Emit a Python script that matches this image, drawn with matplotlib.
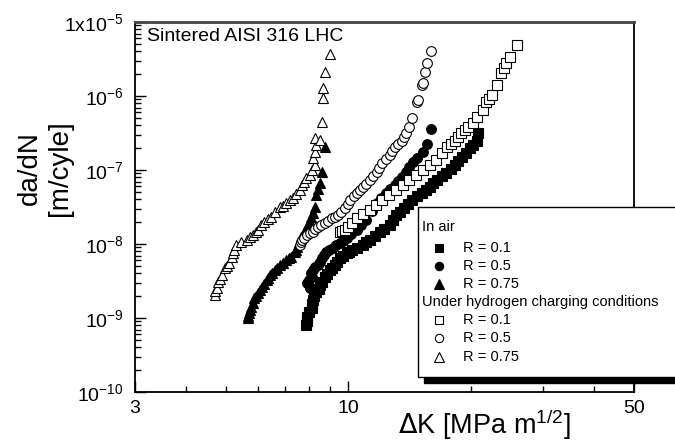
import matplotlib
matplotlib.use("Agg")
import matplotlib.pyplot as plt
from matplotlib.patches import Rectangle
from matplotlib.lines import Line2D
from matplotlib.ticker import FixedLocator, FixedFormatter, NullFormatter

plt.rcParams["font.family"] = ["Liberation Sans", "DejaVu Sans"]

# --- data (delta K in MPa m^1/2, da/dN in m/cycle) ---
# In air, R = 0.1 (filled squares)
air_r01_dk = [7.89, 7.90, 7.93, 8.00, 8.13, 8.15, 8.17, 8.25, 8.35, 8.45,
              8.51, 8.62, 8.74, 8.85, 9.00, 9.12, 9.25, 9.40, 9.52, 9.70,
              9.90, 10.05, 10.23, 10.50, 10.83, 11.05, 11.27, 11.60, 11.92,
              12.25, 12.62, 12.85, 13.1, 13.4, 13.7, 14.0, 14.3, 14.7, 15.1,
              15.45, 15.8, 16.1, 16.5, 16.9, 17.3, 17.8, 18.2, 18.6, 19.0,
              19.4, 19.8, 20.2, 20.6, 20.8]
air_r01_dadn = [8.0e-10, 9.0e-10, 1.03e-9, 1.2e-9, 1.36e-9, 1.55e-9, 1.75e-9,
                2.0e-9, 2.25e-9, 2.5e-9, 2.79e-9, 3.1e-9, 3.58e-9, 3.9e-9,
                4.5e-9, 4.8e-9, 5.2e-9, 5.8e-9, 6.47e-9, 7.0e-9, 7.55e-9,
                7.9e-9, 8.3e-9, 8.9e-9, 9.7e-9, 1.05e-8, 1.13e-8, 1.3e-8,
                1.45e-8, 1.6e-8, 1.8e-8, 2.1e-8, 2.47e-8, 2.75e-8, 3.06e-8,
                3.45e-8, 3.9e-8, 4.4e-8, 4.89e-8, 5.4e-8, 5.9e-8, 6.6e-8,
                7.3e-8, 8.2e-8, 9.1e-8, 1.03e-7, 1.17e-7, 1.32e-7, 1.5e-7,
                1.72e-7, 1.98e-7, 2.2e-7, 2.5e-7, 3.16e-7]

# In air, R = 0.5 (filled circles)
air_r05_dk = [8.04, 7.93, 8.00, 8.13, 8.10, 8.17, 8.30, 8.42, 8.50, 8.60,
              8.72, 8.83, 8.98, 9.14, 9.33, 9.52, 9.70, 9.90, 10.15, 10.47,
              10.75, 11.07, 11.4, 11.72, 12.0, 12.36, 12.65, 12.98, 13.25,
              13.5, 13.8, 14.1, 14.4, 14.7, 15.2, 15.6, 15.9]
air_r05_dadn = [2.54e-9, 2.97e-9, 3.3e-9, 3.58e-9, 4.0e-9, 4.5e-9, 4.85e-9,
                5.2e-9, 5.8e-9, 6.47e-9, 7.1e-9, 7.8e-9, 8.3e-9, 8.8e-9,
                9.6e-9, 1.03e-8, 1.1e-8, 1.2e-8, 1.35e-8, 1.55e-8, 1.8e-8,
                2.1e-8, 2.8e-8, 3.58e-8, 4.2e-8, 4.89e-8, 5.5e-8, 6.27e-8,
                7.1e-8, 8.0e-8, 9.4e-8, 1.1e-7, 1.27e-7, 1.45e-7, 1.75e-7,
                2.25e-7, 3.58e-7]

# In air, R = 0.75 (filled triangles)
air_r075_dk = [5.67, 5.68, 5.72, 5.75, 5.78, 5.83, 5.87, 5.93, 6.0, 6.07,
               6.13, 6.22, 6.30, 6.36, 6.42, 6.50, 6.59, 6.69, 6.79, 6.92,
               7.05, 7.15, 7.25, 7.38, 7.44, 7.50, 7.58, 7.67, 7.78, 7.89,
               7.96, 8.04, 8.10, 8.17, 8.26, 8.35, 8.43, 8.51, 8.60, 8.74]
air_r075_dadn = [1.0e-9, 1.08e-9, 1.17e-9, 1.3e-9, 1.41e-9, 1.6e-9, 1.86e-9,
                 2.0e-9, 2.18e-9, 2.4e-9, 2.62e-9, 2.9e-9, 3.3e-9, 3.5e-9,
                 3.81e-9, 4.1e-9, 4.5e-9, 4.8e-9, 5.2e-9, 5.6e-9, 6.1e-9,
                 6.4e-9, 6.67e-9, 7.8e-9, 8.4e-9, 9.1e-9, 1.05e-8, 1.24e-8,
                 1.42e-8, 1.64e-8, 1.8e-8, 1.98e-8, 2.3e-8, 2.62e-8, 3.16e-8,
                 4.59e-8, 5.5e-8, 6.67e-8, 9.4e-8, 2.05e-7]

# Hydrogen charging, R = 0.1 (open squares)
h2_r01_dk = [9.52, 9.65, 9.78, 9.95, 10.2, 10.47, 10.85, 11.27, 11.7, 12.1,
             12.6, 13.1, 13.6, 14.1, 14.6, 15.2, 15.8, 16.4, 16.9, 17.4, 17.8,
             18.2, 18.6, 18.9, 19.3, 19.6, 20.2, 20.7, 21.3, 21.7, 22.1, 22.5,
             23.1, 23.6, 24.0, 24.3, 24.8, 25.8]
h2_r01_dadn = [1.45e-8, 1.5e-8, 1.55e-8, 1.7e-8, 1.95e-8, 2.25e-8, 2.55e-8,
               2.9e-8, 3.4e-8, 3.9e-8, 4.6e-8, 5.4e-8, 6.3e-8, 7.3e-8, 8.6e-8,
               1.0e-7, 1.17e-7, 1.36e-7, 1.7e-7, 2.05e-7, 2.25e-7, 2.5e-7,
               2.8e-7, 3.16e-7, 3.5e-7, 3.81e-7, 4.3e-7, 5.2e-7, 6.5e-7,
               8.3e-7, 9.2e-7, 1.03e-6, 1.41e-6, 2.05e-6, 2.4e-6, 2.79e-6,
               3.37e-6, 4.9e-6]

# Hydrogen charging, R = 0.5 (open circles)
h2_r05_dk = [7.60, 7.65, 7.71, 7.80, 7.93, 8.05, 8.17, 8.30, 8.42, 8.58,
             8.74, 8.9, 9.09, 9.25, 9.41, 9.6, 9.78, 9.95, 10.1, 10.3, 10.47,
             10.65, 10.83, 11.05, 11.27, 11.5, 11.72, 11.9, 12.1, 12.35,
             12.62, 12.8, 12.98, 13.25, 13.5, 13.7, 13.85, 14.1, 14.3, 14.7,
             14.8, 15.1, 15.2, 15.4, 15.6, 15.9]
h2_r05_dadn = [9.7e-9, 1.05e-8, 1.13e-8, 1.22e-8, 1.32e-8, 1.4e-8, 1.45e-8,
               1.58e-8, 1.7e-8, 1.8e-8, 1.92e-8, 2.05e-8, 2.25e-8, 2.35e-8,
               2.47e-8, 2.75e-8, 3.06e-8, 3.45e-8, 3.9e-8, 4.4e-8, 4.89e-8,
               5.3e-8, 5.9e-8, 6.5e-8, 7.3e-8, 8.3e-8, 9.4e-8, 1.08e-7,
               1.24e-7, 1.4e-7, 1.6e-7, 1.8e-7, 2.05e-7, 2.25e-7, 2.5e-7,
               2.8e-7, 3.16e-7, 3.81e-7, 5.0e-7, 8.3e-7, 8.8e-7, 1.41e-6,
               1.5e-6, 2.11e-6, 2.79e-6, 4.06e-6]

# Hydrogen charging, R = 0.75 (open triangles)
h2_r075_dk = [4.71, 4.72, 4.76, 4.79, 4.84, 4.90, 4.98, 5.05, 5.10, 5.19,
              5.22, 5.25, 5.30, 5.45, 5.63, 5.75, 5.83, 5.92, 6.0, 6.12, 6.22,
              6.35, 6.46, 6.6, 6.79, 6.9, 7.05, 7.18, 7.30, 7.45, 7.60, 7.71,
              7.80, 7.89, 8.04, 8.13, 8.26, 8.17, 8.26, 8.35, 8.26, 8.51,
              8.60, 8.64, 8.64, 8.77, 9.0]
h2_r075_dadn = [2.05e-9, 2.3e-9, 2.54e-9, 3.06e-9, 3.4e-9, 3.81e-9, 4.74e-9,
                5.0e-9, 5.5e-9, 6.67e-9, 7.5e-9, 8.3e-9, 9.7e-9, 1.05e-8,
                1.13e-8, 1.25e-8, 1.32e-8, 1.45e-8, 1.55e-8, 1.8e-8, 1.98e-8,
                2.15e-8, 2.32e-8, 2.7e-8, 3.16e-8, 3.3e-8, 3.58e-8, 3.9e-8,
                4.19e-8, 4.8e-8, 5.4e-8, 6.27e-8, 7.0e-8, 7.8e-8, 8.55e-8,
                1.0e-7, 1.17e-7, 1.45e-7, 1.75e-7, 2.18e-7, 2.7e-7, 2.54e-7,
                4.46e-7, 9.4e-7, 1.28e-6, 2.11e-6, 3.7e-6]

x_ticks = [3, 10, 50]
x_tick_labels = ["3", "10", "50"]
x_minor = [4, 5, 6, 7, 8, 9, 20, 30, 40]
y_ticks = [1e-10, 1e-9, 1e-8, 1e-7, 1e-6, 1e-5]
y_tick_labels = [r"$\mathregular{10^{-10}}$", r"$\mathregular{10^{-9}}$",
                 r"$\mathregular{10^{-8}}$", r"$\mathregular{10^{-7}}$",
                 r"$\mathregular{10^{-6}}$", r"$\mathregular{1x10^{-5}}$"]
y_minor = [m * 10.0 ** e for e in range(-10, -5) for m in range(2, 10)]

legend_headers = ["In air", "Under hydrogen charging conditions"]
legend_labels = ["R = 0.1", "R = 0.5", "R = 0.75"]

fig = plt.figure(figsize=(6.75, 4.41), dpi=100)
ax = fig.add_axes([0.2, 0.111, 0.739, 0.839])

filled = dict(ls="none", mfc="black", mec="black", mew=0.8)
hollow = dict(ls="none", mfc="white", mec="black", mew=0.8)

ax.plot(air_r01_dk, air_r01_dadn, marker="s", ms=6.5, **filled)
ax.plot(air_r05_dk, air_r05_dadn, marker="o", ms=7, **filled)
ax.plot(air_r075_dk, air_r075_dadn, marker="^", ms=7.5, **filled)
ax.plot(h2_r01_dk, h2_r01_dadn, marker="s", ms=6.5, **hollow)
ax.plot(h2_r05_dk, h2_r05_dadn, marker="o", ms=7, **hollow)
ax.plot(h2_r075_dk, h2_r075_dadn, marker="^", ms=7.5, **hollow)

ax.set_xscale("log")
ax.set_yscale("log")
ax.set_xlim(3, 50)
ax.set_ylim(1e-10, 1e-5)

ax.xaxis.set_major_locator(FixedLocator(x_ticks))
ax.xaxis.set_major_formatter(FixedFormatter(x_tick_labels))
ax.xaxis.set_minor_locator(FixedLocator(x_minor))
ax.xaxis.set_minor_formatter(NullFormatter())
ax.yaxis.set_major_locator(FixedLocator(y_ticks))
ax.yaxis.set_major_formatter(FixedFormatter(y_tick_labels))
ax.yaxis.set_minor_locator(FixedLocator(y_minor))
ax.yaxis.set_minor_formatter(NullFormatter())

ax.tick_params(which="both", direction="in", top=False, right=False, width=1)
ax.tick_params(which="major", length=8, labelsize=14)
ax.tick_params(axis="x", which="major", pad=6)
ax.tick_params(axis="y", which="major", pad=8)
ax.tick_params(which="minor", length=4)

for side in ["left", "bottom", "right"]:
    ax.spines[side].set_linewidth(1.3)
ax.spines["top"].set_linewidth(2)
ax.spines["top"].set_color("#444444")

ax.text(0.024, 0.985, "Sintered AISI 316 LHC", transform=ax.transAxes,
        ha="left", va="top", fontsize=14)

fig.text(45 / 675, 1 - 168 / 441, "da/dN\n[m/cyle]", rotation=90,
         ha="center", va="center", multialignment="center", fontsize=20)
fig.text(484 / 675, 7 / 441, r"$\Delta$K [MPa m$^{\mathregular{1/2}}$]",
         ha="center", va="baseline", fontsize=19.5)


# legend box, drawn in figure pixels so it can run past the right edge
def fx(px):
    return px / 675


def fy(py):
    return 1 - py / 441


shadow = Rectangle((fx(424), fy(383)), fx(300), fy(213) - fy(383),
                   transform=fig.transFigure, facecolor="black",
                   edgecolor="black", zorder=5)
box = Rectangle((fx(418), fy(377)), fx(300), fy(207) - fy(377),
                transform=fig.transFigure, facecolor="white",
                edgecolor="black", lw=1, zorder=6)
fig.add_artist(shadow)
fig.add_artist(box)

rows_y = [227, 248, 266, 284, 302, 320, 338, 357]
markers = [("s", "black", 5.5), ("o", "black", 6), ("^", "black", 6.5),
           ("s", "white", 5.5), ("o", "white", 6), ("^", "white", 6.5)]
fig.text(fx(422), fy(rows_y[0]), legend_headers[0], ha="left", va="center",
         fontsize=10.5, zorder=7)
fig.text(fx(422), fy(rows_y[4]), legend_headers[1], ha="left", va="center",
         fontsize=10.5, zorder=7)
entry_rows = rows_y[1:4] + rows_y[5:8]
for i, (row, (mk, fc, ms)) in enumerate(zip(entry_rows, markers)):
    fig.add_artist(Line2D([fx(439)], [fy(row)], transform=fig.transFigure,
                          marker=mk, ms=ms, mfc=fc, mec="black", mew=0.8,
                          ls="none", zorder=7))
    fig.text(fx(463), fy(row), legend_labels[i % 3], ha="left", va="center",
             fontsize=10.5, zorder=7)

fig.savefig("out.png", dpi=100)
